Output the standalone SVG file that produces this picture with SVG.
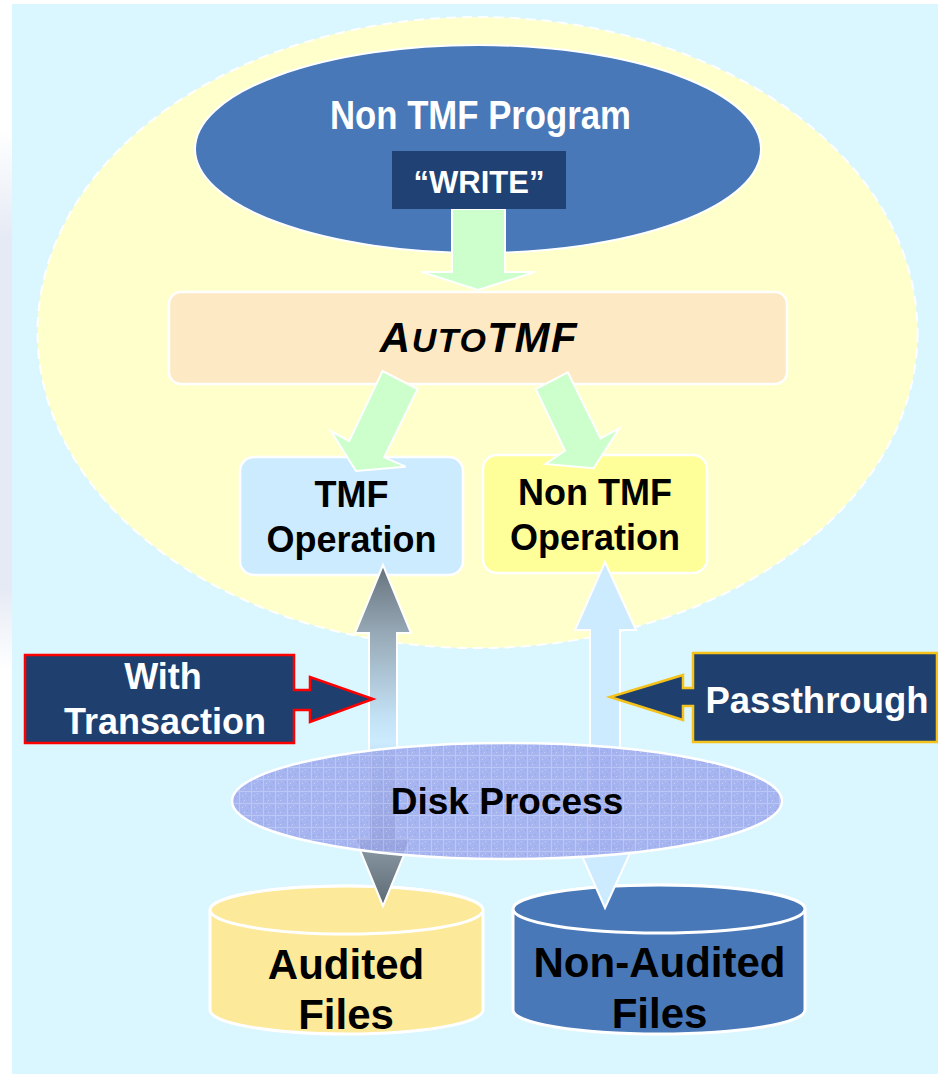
<svg xmlns="http://www.w3.org/2000/svg" width="938" height="1074" viewBox="0 0 938 1074">
<style>
  .t { font-family: "Liberation Sans", Arial, sans-serif; font-weight: bold; }
  .w { fill: #FFFFFF; }
  .k { fill: #000000; }
  .green { fill: #CCFFCC; stroke: #FFFFFF; stroke-width: 2; stroke-linejoin: miter; }
  .box { stroke: #FFFFFF; stroke-width: 2.5; }
  .cyl { stroke: #FFFFFF; stroke-width: 3; }
</style>
<defs>
  <linearGradient id="grayArrow" gradientUnits="userSpaceOnUse" x1="0" y1="565" x2="0" y2="906">
    <stop offset="0" stop-color="#65727C"/>
    <stop offset="0.2" stop-color="#97A9B6"/>
    <stop offset="0.45" stop-color="#C4E2F6"/>
    <stop offset="0.52" stop-color="#CCEBFF"/>
    <stop offset="0.8" stop-color="#8E9DA8"/>
    <stop offset="1" stop-color="#5D6A74"/>
  </linearGradient>
  <linearGradient id="edge" x1="0" y1="0" x2="0" y2="1">
    <stop offset="0" stop-color="#E6EAF5" stop-opacity="0"/>
    <stop offset="0.2" stop-color="#E6EAF5"/>
    <stop offset="0.85" stop-color="#E6EAF5"/>
    <stop offset="1" stop-color="#E6EAF5" stop-opacity="0"/>
  </linearGradient>
  <pattern id="disk" patternUnits="userSpaceOnUse" width="12" height="12">
    <rect width="12" height="12" fill="#9DA9EC"/>
    <path d="M0,11.5 H12 M11.5,0 V12" stroke="#B6C0F3" stroke-width="1"/>
    <rect x="2" y="3" width="1" height="1" fill="#C3CBF7"/>
    <rect x="7" y="6" width="1" height="1" fill="#8793E3"/>
    <rect x="4" y="8" width="1" height="1" fill="#C3CBF7"/>
    <rect x="9" y="2" width="1" height="1" fill="#8793E3"/>
    <rect x="1" y="7" width="1" height="1" fill="#8793E3"/>
    <rect x="5" y="1" width="1" height="1" fill="#B8C1F5"/>
  </pattern>
</defs>

<g id="background">
  <rect x="0" y="0" width="938" height="1074" fill="#FFFFFF"/>
  <rect x="0" y="130" width="12" height="540" fill="url(#edge)"/>
  <rect x="12" y="4" width="926" height="1070" fill="#DAF6FF"/>
</g>

<g id="scope">
  <ellipse cx="477.5" cy="332.5" rx="440" ry="315.5" fill="#FFFFCC" stroke="#FFFFFF" stroke-width="2" stroke-dasharray="10 6"/>
</g>

<g id="program">
  <ellipse cx="478" cy="149" rx="283" ry="104" fill="#4878B8" stroke="#FFFFFF" stroke-width="2"/>
  <text class="t w" x="330" y="129" font-size="40" textLength="301" lengthAdjust="spacingAndGlyphs">Non TMF Program</text>
</g>

<g id="autotmf">
  <rect x="169" y="292" width="618" height="92" rx="12" fill="#FDE9C3" class="box"/>
  <text class="t k" x="479" y="352" text-anchor="middle" font-style="italic" letter-spacing="1.5"><tspan font-size="42">A</tspan><tspan font-size="34">UTO</tspan><tspan font-size="42">TMF</tspan></text>
</g>

<g id="tmf-op">
  <rect x="240" y="457" width="223" height="118" rx="14" fill="#CCEBFF" class="box"/>
  <text class="t k" x="351.5" y="507" font-size="36" text-anchor="middle">TMF</text>
  <text class="t k" x="351.5" y="552" font-size="36" text-anchor="middle">Operation</text>
</g>

<g id="nontmf-op">
  <rect x="483" y="455" width="224" height="118" rx="14" fill="#FFFF99" class="box"/>
  <text class="t k" x="595" y="505" font-size="36" text-anchor="middle">Non TMF</text>
  <text class="t k" x="595" y="550" font-size="36" text-anchor="middle">Operation</text>
</g>

<g id="audited-files">
  <path d="M210,910 A136.5,24 0 0 1 483,910 V1010 A136.5,24 0 0 1 210,1010 Z" fill="#FCE99A" class="cyl"/>
  <ellipse cx="346.5" cy="910" rx="136.5" ry="24" fill="#FCE99A" class="cyl"/>
  <text class="t k" x="346" y="979" font-size="42" text-anchor="middle">Audited</text>
  <text class="t k" x="346" y="1029" font-size="42" text-anchor="middle">Files</text>
</g>

<g id="nonaudited-files">
  <path d="M513,909 A146,24 0 0 1 805,909 V1010 A146,24 0 0 1 513,1010 Z" fill="#4878B8" class="cyl"/>
  <ellipse cx="659" cy="909" rx="146" ry="24" fill="#4878B8" class="cyl"/>
  <text class="t k" x="659.5" y="977" font-size="42" text-anchor="middle">Non-Audited</text>
  <text class="t k" x="659.5" y="1028" font-size="42" text-anchor="middle">Files</text>
</g>

<g id="connectors">
  <polygon class="green" points="452,209 505,209 505,272 535,272 478,290 422,272 452,272"/>
  <polygon class="green" points="382.5,371 417.6,389 384.2,457.3 405.6,466.7 356,471 330.9,431 349.1,441"/>
  <polygon class="green" points="567.8,372.3 600.5,438.3 619.4,428.3 593.6,468.3 545.4,464 565,450.7 535.7,389"/>
  <polygon points="383,565 411,633 397,633 397,838 411,838 383,906 355,838 369,838 369,633 355,633" fill="url(#grayArrow)" stroke="#FFFFFF" stroke-width="2"/>
  <polygon points="605,562 636,630 620,630 620,840 636,840 605,908 575,840 590,840 590,630 575,630" fill="#CCEBFF" stroke="#FFFFFF" stroke-width="2"/>
</g>

<g id="disk-process">
  <ellipse cx="507" cy="801" rx="275" ry="58" fill="url(#disk)" fill-opacity="0.85" stroke="#FFFFFF" stroke-width="2.5"/>
  <text class="t k" x="507" y="814" font-size="37" text-anchor="middle">Disk Process</text>
</g>

<g id="write">
  <rect x="392" y="151" width="174" height="58" fill="#1F4173"/>
  <text class="t w" x="479" y="193" font-size="31" text-anchor="middle">“WRITE”</text>
</g>

<g id="with-transaction">
  <path d="M25,655 H294 V690 H310 V677 L373,699 L310,722 V710 H294 V743 H25 Z" fill="#1F3F6F" stroke="#FF0000" stroke-width="2.5"/>
  <text class="t w" x="163" y="689" font-size="36" text-anchor="middle">With</text>
  <text class="t w" x="165" y="734" font-size="36" text-anchor="middle">Transaction</text>
</g>

<g id="passthrough">
  <path d="M937,653 H693 V688 H683 V675 L610,697 L683,720 V706 H693 V742 H937 Z" fill="#1F3F6F" stroke="#F5C21B" stroke-width="2.5"/>
  <text class="t w" x="817" y="713" font-size="36.5" text-anchor="middle">Passthrough</text>
</g>
</svg>
